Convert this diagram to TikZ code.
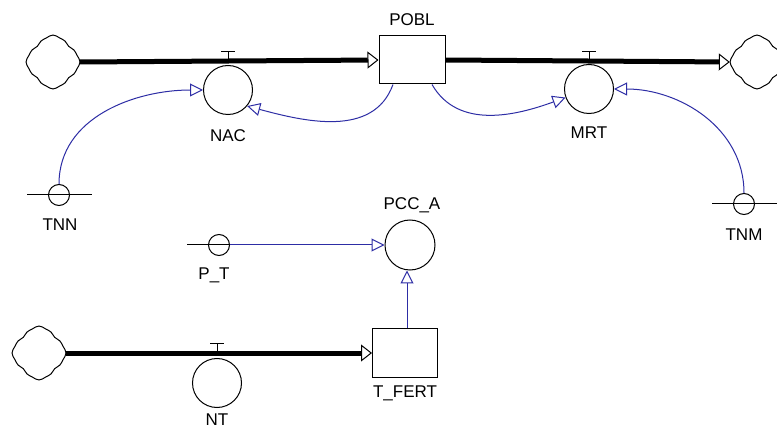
\documentclass[tikz,border=0pt]{standalone}
\usepackage{fontspec}
\setmainfont{Liberation Sans}
\usetikzlibrary{arrows.meta}
\definecolor{linkblue}{RGB}{45,45,165}
\begin{document}
\begin{tikzpicture}[x=1pt,y=1pt,
  outl/.style={line width=1pt},
  stockbox/.style={draw, line width=1pt, fill=white, minimum width=66pt, minimum height=48pt, inner sep=0},
  aux/.style={circle, draw, line width=1pt, minimum size=49pt, inner sep=0},
  const/.style={circle, draw, line width=1pt, minimum size=21pt, inner sep=0},
  lbl/.style={font=\fontsize{17}{20}\selectfont, inner sep=0},
  flowline/.style={line width=5pt, -{Triangle[open, length=11pt, width=17pt, line width=1pt]}},
  link/.style={linkblue, line width=1pt, -{Triangle[open, length=13pt, width=13pt, line width=1pt]}},
  cloudspot/.style={circle, minimum size=54pt, inner sep=0},
  cloudpic/.pic={\draw[line width=1pt] plot[smooth cycle, domain=0:352.5, samples=48, variable=\t] (\t:{27*(0.91+0.07*cos(4*\t)+0.018*cos(12*\t))});},
  valvetop/.pic={\draw[line width=1pt] (0,0) -- (0,10) (-7,10) -- (7,10);}
]
\useasboundingbox (0,0) rectangle (777,437);
\fill[white] (0,0) rectangle (777,437);

% clouds
\node[cloudspot] (cTL) at (53,375) {};
\pic at (cTL) {cloudpic};
\node[cloudspot] (cTR) at (757,375) {};
\pic at (cTR) {cloudpic};
\node[cloudspot] (cB) at (39,84) {};
\pic at (cB) {cloudpic};

% stocks
\node[stockbox] (pobl) at (412,377) {};
\node[stockbox, minimum width=65pt, minimum height=49pt] (tfert) at (405,84) {};

% valves / auxiliaries
\node[aux] (nac) at (228,347) {};
\node[aux] (mrt) at (589,348) {};
\node[aux] (nt) at (217,54) {};
\node[aux, minimum size=50pt] (pcca) at (410,192) {};

% constants
\node[const] (tnn) at (59,242) {};
\node[const] (tnm) at (744,233) {};
\node[const] (pt) at (219,192) {};
\draw[outl] ([xshift=-32pt]tnn.center) -- ([xshift=33pt]tnn.center);
\draw[outl] ([xshift=-32pt]tnm.center) -- ([xshift=33pt]tnm.center);
\draw[outl] ([xshift=-32pt]pt.center) -- (pt.east);

% flows
\draw[flowline] (cTL.east) -- (pobl.west);
\draw[flowline] (pobl.east) -- (cTR.west);
\draw[flowline] (cB.east) -- (tfert.west);
\pic at (228,375) {valvetop};
\pic at (589,375) {valvetop};
\pic at (217,84) {valvetop};

% links
\draw[link] (tnn.north) to[out=90,in=180] (nac.west);
\draw[link] ([xshift=-19pt]pobl.south) to[out=-110,in=-15] (nac.-40);
\draw[link] ([xshift=20pt]pobl.south) to[out=-60,in=200] (mrt.200);
\draw[link] (tnm.north) to[out=90,in=0] (mrt.east);
\draw[link] (pt.east) -- (pcca.west);
\draw[link] ([xshift=2pt]tfert.north) -- ([xshift=2pt]tfert.north |- pcca.south);

% labels
\node[lbl] (lpobl) at (412,417) {POBL};
\node[lbl] (lnac) at (228,301) {NAC};
\node[lbl] (lmrt) at (589,304) {MRT};
\node[lbl] (ltnn) at (60,212) {TNN};
\node[lbl] (ltnm) at (744,202) {TNM};
\node[lbl] (lpcca) at (412,232) {PCC\_A};
\node[lbl] (lpt) at (214,162) {P\_T};
\node[lbl] (ltfert) at (405,44) {T\_FERT};
\node[lbl] (lnt) at (217,17) {NT};
\end{tikzpicture}
\end{document}
